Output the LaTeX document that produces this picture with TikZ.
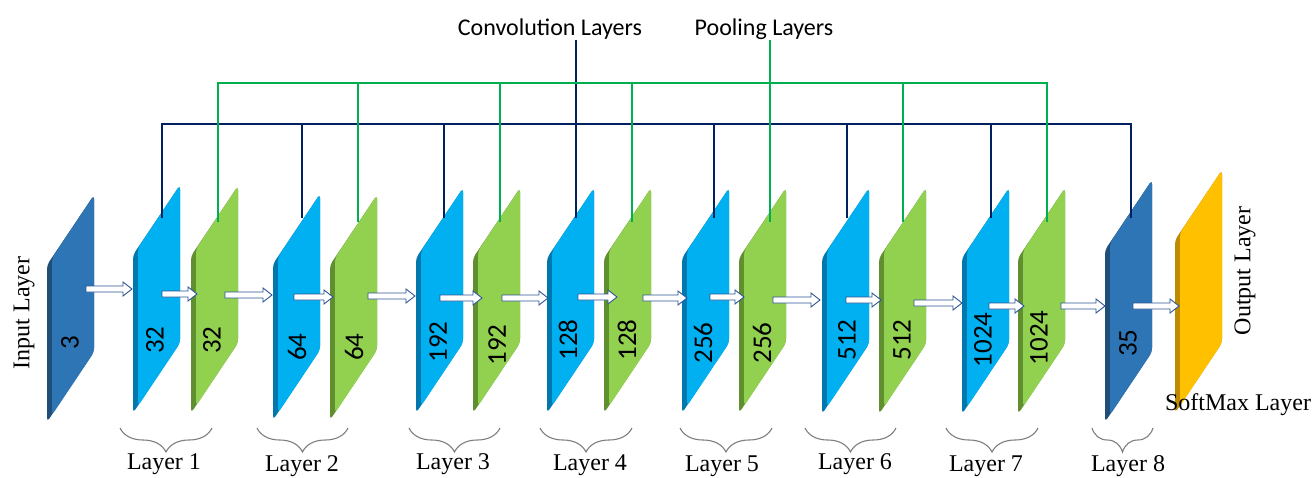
\documentclass[tikz,border=0pt]{standalone}
\usepackage{fontspec}
\setmainfont{Liberation Serif}
\newfontfamily\calfont{Carlito}
\usetikzlibrary{calc,decorations.pathreplacing}
\definecolor{convface}{HTML}{00B0F0}
\definecolor{convdark}{HTML}{0078AE}
\definecolor{poolface}{HTML}{92D050}
\definecolor{pooldark}{HTML}{5F8F2E}
\definecolor{inface}{HTML}{2E75B6}
\definecolor{indark}{HTML}{1F4E79}
\definecolor{outface}{HTML}{FFC000}
\definecolor{outdark}{HTML}{C08A00}
\definecolor{navyc}{HTML}{002060}
\definecolor{greenc}{HTML}{00B050}
\definecolor{arrowc}{HTML}{2F5597}
\definecolor{bracec}{HTML}{7F7F7F}
\newcommand\cnnlayer[6]{%
  \fill[#6, rounded corners=4pt] (#2,#3) -- ({#2+47},{#3-70}) -- ({#2+47},{#3-70+#4}) -- (#2,{#3+#4}) -- cycle;
  \fill[#5, rounded corners=4pt] ({#2+5},{#3-7}) -- ({#2+47},{#3-70}) -- ({#2+47},{#3-70+#4}) -- ({#2+5},{#3+#4-7}) -- cycle;
  \coordinate (#1) at (#2,#3);}
\newcommand\blkarrow[2]{%
  \draw[blkarrow] let \p1=(#1), \p2=(#2) in
    (\x1,\y1+3pt) -- (\x2-9pt,\y1+3pt) -- (\x2-9pt,\y1+7pt) -- (\x2,\y1)
    -- (\x2-9pt,\y1-7pt) -- (\x2-9pt,\y1-3pt) -- (\x1,\y1-3pt) -- cycle;}
\begin{document}
\begin{tikzpicture}[x=1pt,y=-1pt,
  blkarrow/.style={draw=arrowc, line width=0.9pt, fill=white, line join=miter},
  convline/.style={draw=navyc, line width=2pt},
  poolline/.style={draw=greenc, line width=2pt},
  numlbl/.style={font=\calfont\fontsize{27}{30}\selectfont, rotate=90, inner sep=0pt},
  toplabel/.style={font=\calfont\fontsize{24}{28}\selectfont, inner sep=0pt},
  laylbl/.style={font=\fontsize{24}{28}\selectfont, inner sep=0pt},
  bracestyle/.style={draw=bracec, line width=1.1pt, decorate,
     decoration={brace, mirror, amplitude=24pt}}]
\useasboundingbox (0,0) rectangle (1315,477);
\fill[white] (0,0) rectangle (1315,477);
% layers
\cnnlayer{inL}{47}{265}{157}{inface}{indark}
\foreach \n/\lx/\yt/\hh in {1/133/255/158,2/273/264/156,3/416/258/155,4/547/258/155,5/682/258/155,6/822/258/156,7/962/258/156}
  {\cnnlayer{conv\n}{\lx}{\yt}{\hh}{convface}{convdark}}
\foreach \n/\lx/\yt/\hh in {1/191/256/157,2/330/265/155,3/473/258/155,4/604/258/155,5/739/258/155,6/879/258/156,7/1018/258/156}
  {\cnnlayer{pool\n}{\lx}{\yt}{\hh}{poolface}{pooldark}}
\cnnlayer{conv8}{1105}{250}{172}{inface}{indark}
\cnnlayer{outL}{1175}{240}{173}{outface}{outdark}
% numbers
\node[numlbl] (n0) at (70,343) {3};
\foreach \n/\px/\py/\t in {1/155/340/32,2/297/347/64,3/438/342/192,4/568/340/128,5/703/343/256,6/847/340/512,7/983/340/1024}
  {\node[numlbl] (nc\n) at (\px,\py) {\t};}
\foreach \n/\px/\py/\t in {1/212/340/32,2/354/347/64,3/497/345/192,4/627/340/128,5/762/343/256,6/902/340/512,7/1039/338/1024}
  {\node[numlbl] (np\n) at (\px,\py) {\t};}
\node[numlbl] (nc8) at (1128,343) {35};
% top labels
\node[toplabel, anchor=base] (convlbl) at (550,35) {Convolution Layers};
\node[toplabel, anchor=base] (poollbl) at (764,35) {Pooling Layers};
% convolution bus
\coordinate (convstem) at (576,40);
\coordinate (cbusR) at (1131,124);
\foreach \n/\dx in {1/162,2/302,3/444,4/576,5/714,6/847,7/991,8/1131}
  {\coordinate (cd\n) at (\dx,218);}
\draw[convline] (cd1) |- (cbusR) -- (cd8);
\foreach \n in {2,3,5,6,7} {\draw[convline] (cd\n) -- (cd\n |- cbusR);}
\draw[convline] (convstem) -- (cd4);
% pooling bus
\coordinate (poolstem) at (770,40);
\coordinate (pbusR) at (1047,83);
\foreach \n/\dx in {1/218,2/358,3/500,4/632,5/770,6/903,7/1047}
  {\coordinate (pd\n) at (\dx,222);}
\draw[poolline] (pd1) |- (pbusR) -- (pd7);
\foreach \n in {2,3,4,6} {\draw[poolline] (pd\n) -- (pd\n |- pbusR);}
\draw[poolline] (poolstem) -- (pd5);
% arrows
\foreach \i/\xa/\xb/\yy in {0/86/132/289,1/162/197/294,2/225/272/295,3/294/333/297,4/368/415/296,5/440/482/298,6/502/548/298,7/578/617/297,8/643/687/298,9/710/744/297,10/773/820/300,11/846/881/300,12/914/962/303,13/989/1024/306,14/1061/1105/306,15/1133/1179/306}
  {\coordinate (as\i) at (\xa,\yy); \coordinate (ae\i) at (\xb,\yy); \blkarrow{as\i}{ae\i}}
% braces and layer labels
\foreach \n/\xa/\xb/\cx/\by in {1/120/212/164/469,2/257/348/302/471,3/409/500/453/469,4/540/632/590/470,5/680/772/722/471,6/805/896/855/469,7/946/1038/986/471,8/1092/1153/1128/471}
  {\coordinate (bl\n) at (\xa,428); \coordinate (br\n) at (\xb,428);
   \draw[bracestyle] (bl\n) -- (br\n);
   \node[laylbl, anchor=base] (ll\n) at (\cx,\by) {Layer \n};}
% side labels
\node[laylbl, rotate=90] (inlbl) at (24,313) {Input Layer};
\node[laylbl, rotate=90] (outlbl) at (1245,271) {Output Layer};
\node[laylbl, anchor=base] (smlbl) at (1238,410) {SoftMax Layer};
\end{tikzpicture}
\end{document}
